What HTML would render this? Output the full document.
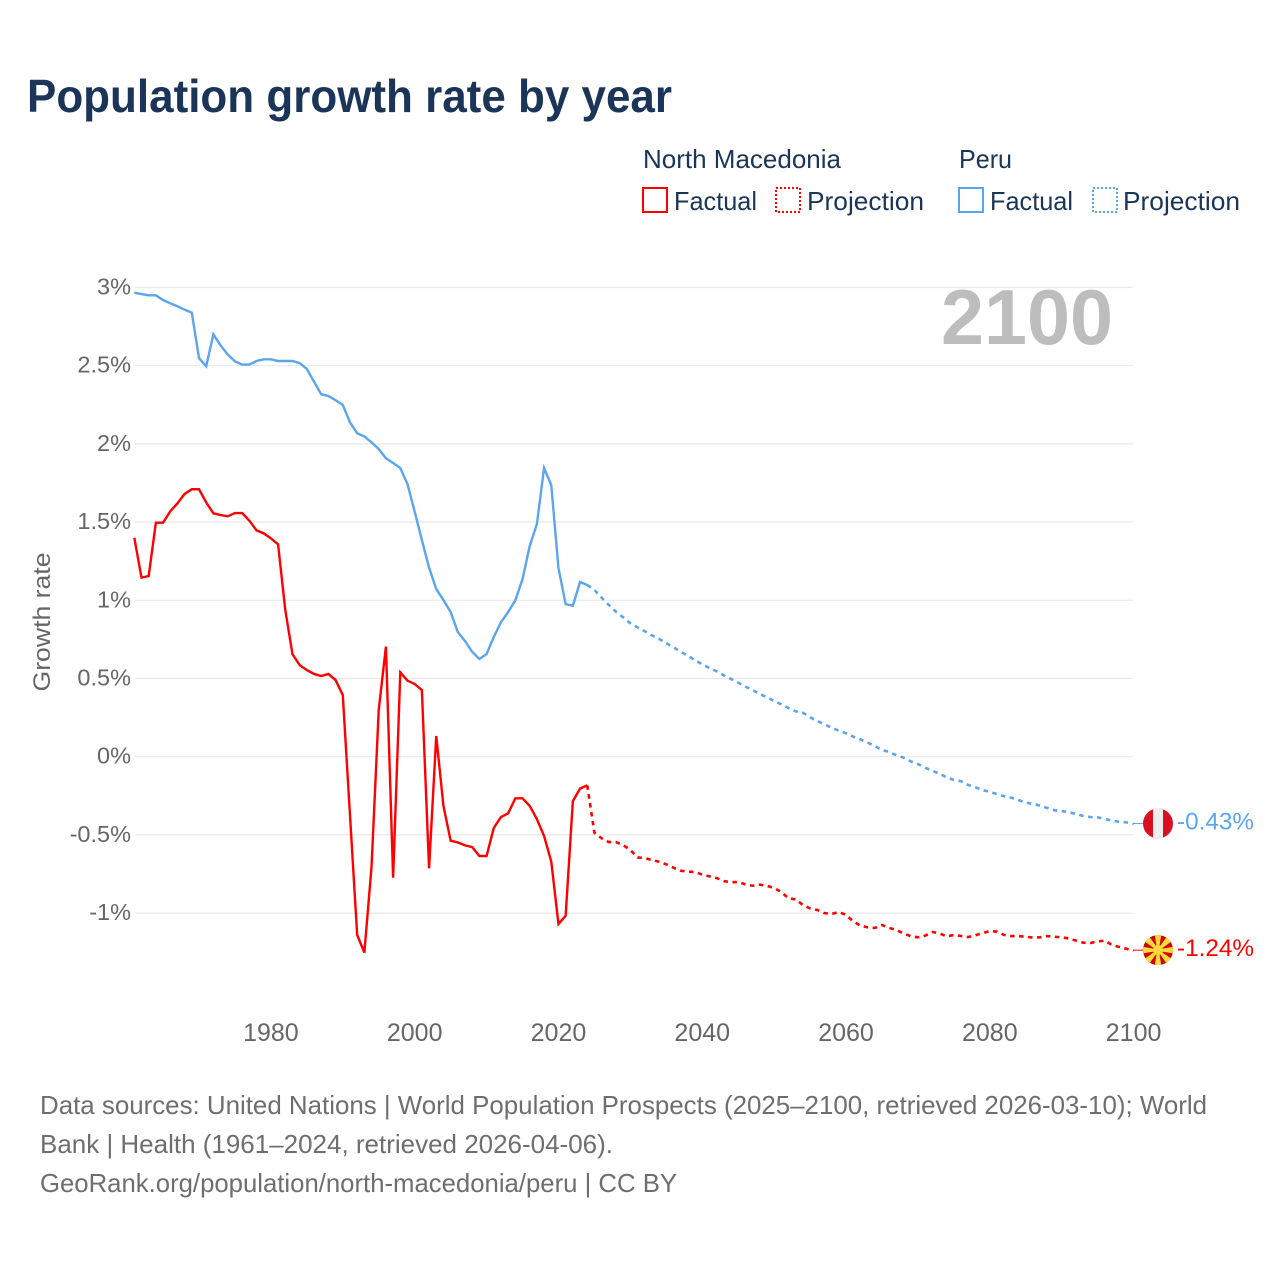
<!DOCTYPE html>
<html lang="en">
<head>
<meta charset="utf-8">
<title>Population growth rate by year</title>
<style>
html,body{margin:0;padding:0;background:#fff;}
svg{display:block;font-family:"Liberation Sans",sans-serif;}
</style>
</head>
<body>
<svg id="chart" xmlns="http://www.w3.org/2000/svg" width="1280" height="1280" viewBox="0 0 1280 1280">
  <rect x="0" y="0" width="1280" height="1280" fill="#ffffff"/>
  <text x="27" y="112" font-size="46" font-weight="700" fill="#1a3557" textLength="645" lengthAdjust="spacingAndGlyphs">Population growth rate by year</text>

  <g font-size="26" fill="#1a3557">
    <text x="643" y="168" textLength="198" lengthAdjust="spacingAndGlyphs">North Macedonia</text>
    <text x="959" y="168" textLength="53" lengthAdjust="spacingAndGlyphs">Peru</text>
    <rect x="643" y="188" width="24" height="24" fill="none" stroke="#ff0000" stroke-width="2"/>
    <text x="674" y="210" textLength="83" lengthAdjust="spacingAndGlyphs">Factual</text>
    <rect x="776" y="188" width="24" height="24" fill="none" stroke="#ff0000" stroke-width="2" stroke-dasharray="2 2"/>
    <text x="807" y="210" textLength="117" lengthAdjust="spacingAndGlyphs">Projection</text>
    <rect x="959" y="188" width="24" height="24" fill="none" stroke="#5aa5ef" stroke-width="2"/>
    <text x="990" y="210" textLength="83" lengthAdjust="spacingAndGlyphs">Factual</text>
    <rect x="1093" y="188" width="24" height="24" fill="none" stroke="#5aa5ef" stroke-width="2" stroke-dasharray="2 2"/>
    <text x="1123" y="210" textLength="117" lengthAdjust="spacingAndGlyphs">Projection</text>
  </g>

  <g id="grid"></g>
  <g id="yticks"></g>
  <g id="xticks"></g>
  <text transform="translate(50,622) rotate(-90)" text-anchor="middle" font-size="24" fill="#666666" textLength="139" lengthAdjust="spacingAndGlyphs">Growth rate</text>
  <text x="1113" y="344" text-anchor="end" font-size="78" font-weight="700" fill="#bdbdbd" textLength="172" lengthAdjust="spacingAndGlyphs">2100</text>

  <g id="series"></g>

  <defs>
    <clipPath id="flag-clip"><circle cx="0" cy="0" r="15"/></clipPath>
  </defs>
  <g id="flags"></g>

  <g font-size="26" fill="#6e6e6e">
    <text x="40" y="1114" textLength="1167" lengthAdjust="spacingAndGlyphs">Data sources: United Nations | World Population Prospects (2025–2100, retrieved 2026-03-10); World</text>
    <text x="40" y="1153" textLength="573" lengthAdjust="spacingAndGlyphs">Bank | Health (1961–2024, retrieved 2026-04-06).</text>
    <text x="40" y="1192" textLength="637" lengthAdjust="spacingAndGlyphs">GeoRank.org/population/north-macedonia/peru | CC BY</text>
  </g>
</svg>
<script>
const firstYear = 1961;
const lastFactualYear = 2024;
const lastYear = 2100;
const yTickValues = [3, 2.5, 2, 1.5, 1, 0.5, 0, -0.5, -1];
const yTickLabels = ["3%", "2.5%", "2%", "1.5%", "1%", "0.5%", "0%", "-0.5%", "-1%"];
const xTickYears = [1980, 2000, 2020, 2040, 2060, 2080, 2100];
const xTickLabels = ["1980", "2000", "2020", "2040", "2060", "2080", "2100"];

const peruFactual = [2.967,2.958,2.950,2.950,2.920,2.899,2.880,2.858,2.839,2.549,2.496,2.701,2.630,2.571,2.528,2.507,2.507,2.530,2.541,2.541,2.530,2.530,2.530,2.517,2.479,2.398,2.317,2.306,2.279,2.249,2.138,2.068,2.048,2.010,1.967,1.908,1.878,1.846,1.743,1.567,1.385,1.209,1.072,1.002,0.925,0.797,0.740,0.670,0.625,0.656,0.765,0.860,0.925,1.000,1.135,1.347,1.488,1.846,1.737,1.206,0.976,0.965,1.117,1.098];
const peruProjection = [1.066,1.017,0.970,0.927,0.891,0.853,0.827,0.802,0.776,0.753,0.725,0.700,0.671,0.646,0.616,0.591,0.567,0.546,0.520,0.497,0.473,0.448,0.426,0.401,0.380,0.356,0.335,0.311,0.290,0.281,0.252,0.228,0.207,0.185,0.166,0.150,0.128,0.111,0.090,0.068,0.043,0.030,0.009,-0.006,-0.030,-0.047,-0.070,-0.090,-0.109,-0.132,-0.149,-0.157,-0.181,-0.196,-0.213,-0.226,-0.238,-0.253,-0.262,-0.277,-0.294,-0.302,-0.313,-0.328,-0.343,-0.347,-0.356,-0.366,-0.379,-0.386,-0.388,-0.398,-0.409,-0.416,-0.420,-0.430];
const macedoniaFactual = [1.400,1.145,1.155,1.496,1.496,1.569,1.620,1.680,1.710,1.710,1.626,1.556,1.545,1.537,1.558,1.558,1.509,1.447,1.428,1.396,1.358,0.938,0.656,0.586,0.554,0.529,0.516,0.529,0.490,0.394,-0.373,-1.140,-1.253,-0.703,0.299,0.704,-0.774,0.539,0.486,0.465,0.426,-0.714,0.132,-0.315,-0.537,-0.548,-0.567,-0.578,-0.635,-0.635,-0.456,-0.386,-0.362,-0.266,-0.266,-0.315,-0.399,-0.507,-0.671,-1.070,-1.017,-0.285,-0.204,-0.183];
const macedoniaProjection = [-0.486,-0.522,-0.546,-0.546,-0.565,-0.597,-0.644,-0.648,-0.660,-0.672,-0.688,-0.710,-0.729,-0.735,-0.737,-0.754,-0.765,-0.776,-0.795,-0.803,-0.801,-0.816,-0.825,-0.818,-0.825,-0.840,-0.865,-0.906,-0.912,-0.948,-0.970,-0.980,-1.000,-1.005,-0.993,-1.012,-1.053,-1.080,-1.091,-1.095,-1.076,-1.095,-1.108,-1.130,-1.147,-1.155,-1.144,-1.121,-1.130,-1.149,-1.140,-1.147,-1.153,-1.142,-1.127,-1.115,-1.119,-1.140,-1.147,-1.147,-1.151,-1.157,-1.155,-1.147,-1.151,-1.155,-1.162,-1.176,-1.189,-1.191,-1.181,-1.176,-1.204,-1.217,-1.228,-1.240];
const peruEndLabel = "-0.43%";
const macedoniaEndLabel = "-1.24%";

const SVGNS = "http://www.w3.org/2000/svg";
const xScale = function (year) { return 134.3 + (year - firstYear) * (1133.6 - 134.3) / (lastYear - firstYear); };
const yScale = function (v) { return 756.7 - v * 156.4; };

function mk(parent, tag, attrs) {
  const el = document.createElementNS(SVGNS, tag);
  for (const k in attrs) { el.setAttribute(k, attrs[k]); }
  parent.appendChild(el);
  return el;
}

const grid = document.getElementById("grid");
const yticks = document.getElementById("yticks");
yTickValues.forEach(function (v, i) {
  const line = mk(grid, "line", { x1: 135, x2: 1133, y1: yScale(v), y2: yScale(v), stroke: "#e9e9e9", "stroke-width": 1.2 });
  
  
  const t = mk(yticks, "text", { x: 131, y: yScale(v) + 7, "text-anchor": "end", "font-size": 23.5, fill: "#666666" });
  
  
  t.textContent = yTickLabels[i];
});

const xticks = document.getElementById("xticks");
xTickYears.forEach(function (year, i) {
  const t = mk(xticks, "text", { x: xScale(year), y: 1041, "text-anchor": "middle", "font-size": 25, fill: "#666666" });
  
  
  t.textContent = xTickLabels[i];
});

function pathFrom(values, startYear) {
  return values.map(function (v, i) {
    return (i === 0 ? "M" : "L") + xScale(startYear + i).toFixed(2) + " " + yScale(v).toFixed(2);
  }).join(" ");
}

const series = document.getElementById("series");
function drawSeries(factual, projection, color) {
  const solid = mk(series, "path", { d: pathFrom(factual, firstYear), fill: "none", stroke: color, "stroke-width": 2.4, "stroke-linejoin": "miter" });
  
  
  const joined = [factual[factual.length - 1]].concat(projection);
  const dashed = mk(series, "path", { d: pathFrom(joined, lastFactualYear), fill: "none", stroke: color, "stroke-width": 2.6, "stroke-dasharray": "4.5 4.5" });
  
  
}
drawSeries(peruFactual, peruProjection, "#5aa5ef");
drawSeries(macedoniaFactual, macedoniaProjection, "#ff0000");

const flags = document.getElementById("flags");
function endMarker(value, color, label) {
  const cy = yScale(value) - 0.5;
  const conn = mk(flags, "line", { x1: 1133, x2: 1143, y1: cy, y2: cy, stroke: color, "stroke-width": 1 });
  
  
  const t = mk(flags, "text", { x: 1177, y: cy + 6, "font-size": 24, fill: color, textLength: 77, lengthAdjust: "spacingAndGlyphs" });
  
  
  t.textContent = label;
  const g = mk(flags, "g", { transform: "translate(1158," + cy + ")", "clip-path": "url(#flag-clip)" });
  return g;
}

const pe = endMarker(peruProjection[peruProjection.length - 1], "#5aa5ef", peruEndLabel);


mk(pe, "rect", { x: -15, y: -15, width: 30, height: 30, fill: "#d91023" });
mk(pe, "rect", { x: -5, y: -15, width: 10, height: 30, fill: "#eeeeee" });

const nm = endMarker(macedoniaProjection[macedoniaProjection.length - 1], "#ff0000", macedoniaEndLabel);


mk(nm, "rect", { x: -15, y: -15, width: 30, height: 30, fill: "#d20000" });
for (let a = 0; a < 8; a++) {
  const ray = mk(nm, "polygon", { points: "-0.8,0 0.8,0 3.4,-16 -3.4,-16", fill: "#ffd83a", transform: "rotate(" + (a * 45) + ")" });
  
  
}
mk(nm, "circle", { cx: 0, cy: 0, r: 5, fill: "#ffd83a" });
</script>
</body>
</html>
